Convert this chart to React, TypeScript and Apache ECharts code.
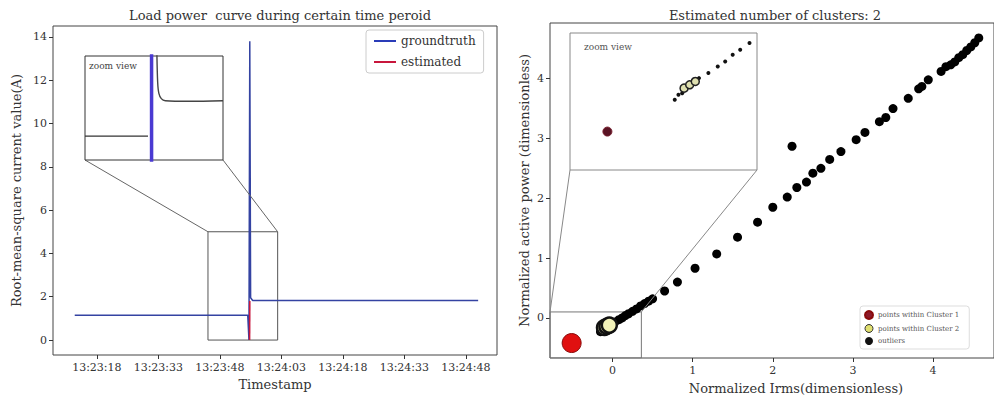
import React, { useEffect, useRef } from "react";
import * as echarts from "echarts";

const FONT = "DejaVu Serif";

// ---------- Left chart data ----------
const xTickLabels = ["13:23:18", "13:23:33", "13:23:48", "13:24:03", "13:24:18", "13:24:33", "13:24:48"];
const yTicksLeft = [0, 2, 4, 6, 8, 10, 12, 14];
const gtTimes = ["13:23:12.6", "13:23:54.8", "13:23:55.1", "13:23:55.3", "13:23:55.5", "13:23:56.0", "13:24:51.0"];
const gtValues = [1.15, 1.15, 0, 13.8, 1.95, 1.83, 1.83];
const estTimes = ["13:23:55.25", "13:23:55.3"];
const estValues = [0, 1.8];
const zoomBoxLeftTimes = ["13:23:45.1", "13:24:02.1"];
const zoomBoxLeftValues = [0, 5];
const insetLeftTimes = ["13:23:45.1", "13:24:02.1"];
const insetLeftValues = [0.7, 2.7];
const insetBaseTimes = ["13:23:45.1", "13:23:52.86"];
const insetBaseValues = [1.16, 1.16];
const insetSpikeTimes = ["13:23:53.3", "13:23:53.3"];
const insetSpikeValues = [0.4, 3.0];
const insetDecayTimes = ["13:23:53.95", "13:23:54.05", "13:23:54.2", "13:23:54.5", "13:23:55.0", "13:23:58.0", "13:24:02.1"];
const insetDecayValues = [2.8, 2.2, 1.98, 1.88, 1.84, 1.83, 1.84];

// ---------- Right chart data ----------
const cluster1 = [[-0.51, -0.42]];
const cluster2 = [[-0.1, -0.16], [-0.07, -0.14], [-0.04, -0.12]];
const outliers = [
  [-0.15, -0.23], [-0.13, -0.2], [-0.11, -0.19], [-0.02, -0.1], [0.03, -0.07], [0.08, -0.03], [0.12, 0.0],
  [0.16, 0.04], [0.2, 0.07], [0.25, 0.11], [0.3, 0.15], [0.35, 0.2], [0.4, 0.24], [0.45, 0.28],
  [0.5, 0.32], [0.65, 0.45], [0.81, 0.6], [1.03, 0.83], [1.3, 1.07], [1.56, 1.35], [1.81, 1.6],
  [2.0, 1.85], [2.18, 2.02], [2.3, 2.18], [2.42, 2.27], [2.5, 2.42], [2.6, 2.5], [2.71, 2.65],
  [2.85, 2.78], [3.04, 2.98], [3.15, 3.1], [3.33, 3.28], [3.41, 3.35], [3.5, 3.5], [3.69, 3.67],
  [3.82, 3.83], [3.86, 3.87], [3.94, 3.98], [4.1, 4.12], [4.16, 4.2], [4.22, 4.23], [4.27, 4.28],
  [4.32, 4.35], [4.37, 4.4], [4.42, 4.47], [4.47, 4.53], [4.52, 4.6], [4.57, 4.68], [2.24, 2.87],
];
const xTicksRight = [0, 1, 2, 3, 4];
const yTicksRight = [0, 1, 2, 3, 4];
const zoomBoxRightX = [-0.78, 0.36];
const zoomBoxRightY = [-0.67, 0.1];
const insetRightX = [-0.71, 0.29];
const insetRightY = [-0.65, 0.17];

// ---------- Layout ----------
const G0 = { left: 53, top: 26, width: 444, height: 329 };
const G1 = { left: 85, top: 56, width: 138, height: 104 };
const G2 = { left: 550, top: 23, width: 445, height: 336 };
const G3 = { left: 570, top: 33, width: 187, height: 137 };

const toSec = (s: string) => {
  const [h, m, sec] = s.split(":").map(Number);
  return h * 3600 + m * 60 + sec - (13 * 3600 + 23 * 60);
};
const pairs = (ts: string[], vs: number[]) => ts.map((t, i) => [toSec(t), vs[i]]);
const box = (x: number[], y: number[]) => [
  [x[0], y[0]], [x[1], y[0]], [x[1], y[1]], [x[0], y[1]], [x[0], y[0]],
];

const tickStyle = { show: true, length: 4, lineStyle: { color: "#333", width: 1 } };
const labelStyle = { fontFamily: FONT, fontSize: 11, color: "#333" };
const nameStyle = { fontFamily: FONT, fontSize: 13, color: "#333" };
const noLine = { show: false, onZero: false };

export default function App() {
  const ref = useRef<HTMLDivElement>(null);
  useEffect(() => {
    if (!ref.current) return;
    const chart = echarts.init(ref.current, undefined, { renderer: "svg" });
    const xTickVals = xTickLabels.map(toSec);
    const leftBoxX = zoomBoxLeftTimes.map(toSec);

    chart.setOption({
      animation: false,
      backgroundColor: "#fff",
      title: [
        { text: "Load power  curve during certain time peroid", left: G0.left + G0.width / 2, top: 4, textAlign: "center",
          textStyle: { fontFamily: FONT, fontSize: 13, fontWeight: "normal", color: "#333" } },
        { text: "Estimated number of clusters: 2", left: G2.left + 220, top: 4, textAlign: "center",
          textStyle: { fontFamily: FONT, fontSize: 13, fontWeight: "normal", color: "#333" } },
      ],
      legend: [
        {
          data: [
            { name: "groundtruth", icon: "rect", itemStyle: { color: "#2a3cb8" } },
            { name: "estimated", icon: "rect", itemStyle: { color: "#c8163c" } },
          ],
          orient: "vertical", left: 366, top: 30,
          itemWidth: 22, itemHeight: 2, itemGap: 9, padding: [5, 8, 5, 8],
          borderColor: "#ccc", borderWidth: 1, borderRadius: 3, backgroundColor: "#fff",
          textStyle: { fontFamily: FONT, fontSize: 12, color: "#333" },
        },
        {
          data: [
            { name: "points within Cluster 1", icon: "circle", itemStyle: { color: "#8b1a2a" } },
            { name: "points within Cluster 2", icon: "circle", itemStyle: { color: "#e0e070", borderColor: "#333", borderWidth: 1 } },
            { name: "outliers", icon: "circle", itemStyle: { color: "#111" } },
          ],
          orient: "vertical", left: 860, top: 306, itemWidth: 8, itemHeight: 8, itemGap: 4,
          padding: [4, 10, 4, 4], borderColor: "#ddd", borderWidth: 1, borderRadius: 3, backgroundColor: "#fff",
          textStyle: { fontFamily: FONT, fontSize: 7, color: "#555" },
        },
      ],
      grid: [
        { ...G0, show: true, borderColor: "#444", borderWidth: 1, backgroundColor: "transparent" },
        { ...G1, show: true, borderColor: "#333", borderWidth: 1, backgroundColor: "#fff", z: 5 },
        { ...G2, show: true, borderColor: "#444", borderWidth: 1, backgroundColor: "transparent" },
        { ...G3, show: true, borderColor: "#888", borderWidth: 1, backgroundColor: "#fff", z: 5 },
      ],
      xAxis: [
        {
          type: "value", gridIndex: 0, min: 7.3, max: 115.6,
          axisLine: noLine, splitLine: { show: false },
          axisTick: { ...tickStyle, customValues: xTickVals },
          axisLabel: { ...labelStyle, margin: 7, customValues: xTickVals,
            formatter: (v: number) => {
              let best = 0;
              xTickVals.forEach((t, i) => { if (Math.abs(t - v) < Math.abs(xTickVals[best] - v)) best = i; });
              return xTickLabels[best];
            } },
          name: "Timestamp", nameLocation: "middle", nameGap: 23, nameTextStyle: nameStyle,
        },
        { type: "value", gridIndex: 1, min: toSec(insetLeftTimes[0]), max: toSec(insetLeftTimes[1]), show: false },
        {
          type: "value", gridIndex: 2, min: -0.78, max: 4.76,
          axisLine: noLine, splitLine: { show: false },
          axisTick: { ...tickStyle, customValues: xTicksRight },
          axisLabel: { ...labelStyle, margin: 7, customValues: xTicksRight },
          name: "Normalized Irms(dimensionless)", nameLocation: "middle", nameGap: 24,
          nameTextStyle: { ...nameStyle, padding: [0, 0, 0, 48] },
        },
        { type: "value", gridIndex: 3, min: insetRightX[0], max: insetRightX[1], show: false },
      ],
      yAxis: [
        {
          type: "value", gridIndex: 0, min: -0.69, max: 14.5,
          axisLine: noLine, splitLine: { show: false },
          axisTick: { ...tickStyle, customValues: yTicksLeft },
          axisLabel: { ...labelStyle, margin: 6, customValues: yTicksLeft },
          name: "Root-mean-square current value(A)", nameLocation: "middle", nameGap: 30, nameTextStyle: nameStyle,
        },
        { type: "value", gridIndex: 1, min: insetLeftValues[0], max: insetLeftValues[1], show: false },
        {
          type: "value", gridIndex: 2, min: -0.67, max: 4.93,
          axisLine: noLine, splitLine: { show: false },
          axisTick: { ...tickStyle, customValues: yTicksRight },
          axisLabel: { ...labelStyle, margin: 6, customValues: yTicksRight },
          name: "Normalized active power (dimensionless)", nameLocation: "middle", nameGap: 19, nameTextStyle: nameStyle,
        },
        { type: "value", gridIndex: 3, min: insetRightY[0], max: insetRightY[1], show: false },
      ],
      series: [
        { name: "groundtruth", type: "line", xAxisIndex: 0, yAxisIndex: 0, data: pairs(gtTimes, gtValues),
          symbol: "none", lineStyle: { color: "#3443a2", width: 1.5 }, itemStyle: { color: "#2a3cb8" }, z: 3 },
        { name: "estimated", type: "line", xAxisIndex: 0, yAxisIndex: 0, data: pairs(estTimes, estValues),
          symbol: "none", lineStyle: { color: "#c8163c", width: 1.6 }, itemStyle: { color: "#c8163c" }, z: 4 },
        { name: "zoomBoxLeft", type: "line", xAxisIndex: 0, yAxisIndex: 0, silent: true,
          data: box(leftBoxX, zoomBoxLeftValues), symbol: "none", lineStyle: { color: "#555", width: 1 }, z: 2 },
        { name: "insetBase", type: "line", xAxisIndex: 1, yAxisIndex: 1, data: pairs(insetBaseTimes, insetBaseValues),
          symbol: "none", lineStyle: { color: "#333", width: 1.2 }, z: 6 },
        { name: "insetSpike", type: "line", xAxisIndex: 1, yAxisIndex: 1, data: pairs(insetSpikeTimes, insetSpikeValues),
          symbol: "none", lineStyle: { color: "#4a3ad2", width: 3.5 }, z: 6 },
        { name: "insetDecay", type: "line", xAxisIndex: 1, yAxisIndex: 1, data: pairs(insetDecayTimes, insetDecayValues),
          symbol: "none", lineStyle: { color: "#444", width: 1.4 }, smooth: 0.3, z: 6 },

        { name: "zoomBoxRight", type: "line", xAxisIndex: 2, yAxisIndex: 2, silent: true,
          data: box(zoomBoxRightX, zoomBoxRightY), symbol: "none", lineStyle: { color: "#777", width: 1 }, z: 1 },
        { name: "outliers", type: "scatter", xAxisIndex: 2, yAxisIndex: 2, data: outliers, symbolSize: 9,
          itemStyle: { color: "#000", opacity: 1 }, z: 2 },
        { name: "points within Cluster 1", type: "scatter", xAxisIndex: 2, yAxisIndex: 2, data: cluster1, symbolSize: 19,
          itemStyle: { color: "#e01010", borderColor: "#8a0a0a", borderWidth: 1, opacity: 1 }, z: 3 },
        { name: "points within Cluster 2", type: "scatter", xAxisIndex: 2, yAxisIndex: 2, data: cluster2, symbolSize: 15,
          itemStyle: { color: "#f2f2b8", borderColor: "#111", borderWidth: 2.5, opacity: 1 }, z: 3 },

        { name: "insetOutliers", type: "scatter", xAxisIndex: 3, yAxisIndex: 3, data: outliers, symbolSize: 4,
          itemStyle: { color: "#111", opacity: 1 }, z: 6 },
        { name: "insetCluster1", type: "scatter", xAxisIndex: 3, yAxisIndex: 3, data: cluster1, symbolSize: 9,
          itemStyle: { color: "#5a1424", borderColor: "#7a2030", borderWidth: 1, opacity: 1 }, z: 7 },
        { name: "insetCluster2", type: "scatter", xAxisIndex: 3, yAxisIndex: 3, data: cluster2, symbolSize: 8,
          itemStyle: { color: "#dfe0b0", borderColor: "#222", borderWidth: 1.5, opacity: 1 }, z: 7 },
      ],
    });

    const lTL = chart.convertToPixel({ gridIndex: 0 }, [leftBoxX[0], zoomBoxLeftValues[1]]) as number[];
    const lTR = chart.convertToPixel({ gridIndex: 0 }, [leftBoxX[1], zoomBoxLeftValues[1]]) as number[];
    const rTL = chart.convertToPixel({ gridIndex: 2 }, [zoomBoxRightX[0], zoomBoxRightY[1]]) as number[];
    const rTR = chart.convertToPixel({ gridIndex: 2 }, [zoomBoxRightX[1], zoomBoxRightY[1]]) as number[];
    const connector = (x1: number, y1: number, x2: number, y2: number, color: string) => ({
      type: "line", silent: true, z: 4,
      shape: { x1, y1, x2, y2 }, style: { stroke: color, lineWidth: 1 },
    });
    chart.setOption({
      graphic: [
        connector(G1.left, G1.top + G1.height, lTL[0], lTL[1], "#666"),
        connector(G1.left + G1.width, G1.top + G1.height, lTR[0], lTR[1], "#666"),
        connector(G3.left, G3.top + G3.height, rTL[0], rTL[1], "#888"),
        connector(G3.left + G3.width, G3.top + G3.height, rTR[0], rTR[1], "#888"),
        { type: "text", z: 10, left: G1.left + 4, top: G1.top + 5,
          style: { text: "zoom view", fontFamily: FONT, fontSize: 9, fill: "#444" } },
        { type: "text", z: 10, left: G3.left + 14, top: G3.top + 9,
          style: { text: "zoom view", fontFamily: FONT, fontSize: 9, fill: "#555" } },
      ],
    });

    return () => chart.dispose();
  }, []);
  return <div ref={ref} style={{ position: "fixed", left: 0, top: 0, width: 994, height: 400 }} />;
}
